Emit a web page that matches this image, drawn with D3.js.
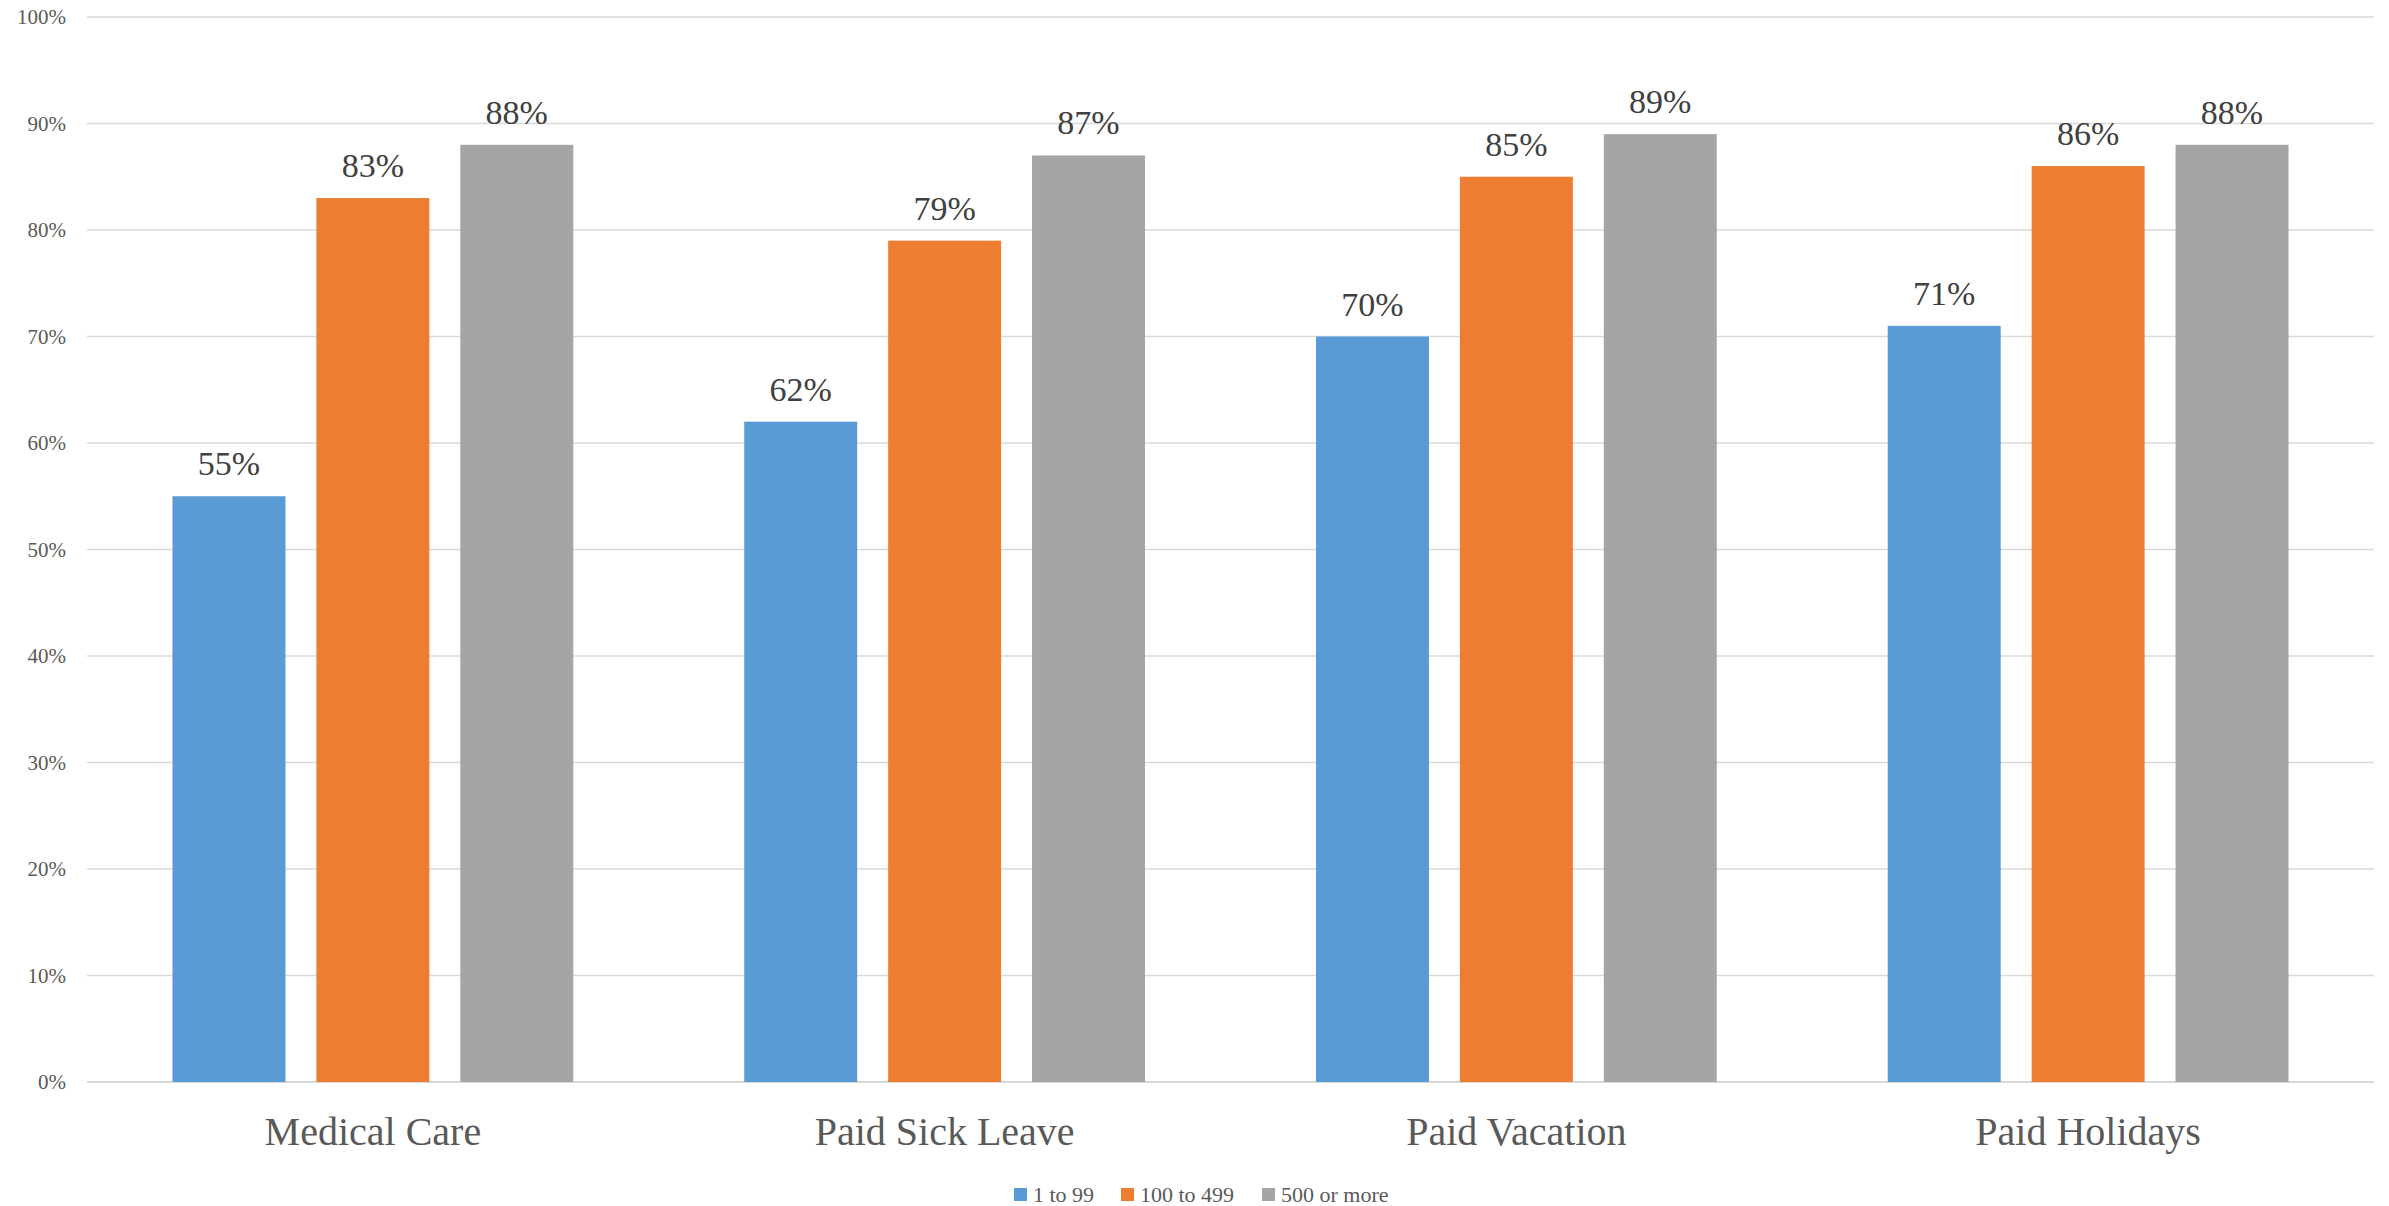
<!DOCTYPE html>
<html>
<head>
<meta charset="utf-8">
<script src="https://cdn.jsdelivr.net/npm/d3@7"></script>
<style>
  html, body { margin: 0; padding: 0; background: #fff; }
  svg { display: block; font-family: "Liberation Serif", "DejaVu Serif", serif; }
</style>
</head>
<body>
<svg id="chart" width="2389" height="1206"></svg>
<script>
// data
const categories = ["Medical Care", "Paid Sick Leave", "Paid Vacation", "Paid Holidays"];
const seriesNames = ["1 to 99", "100 to 499", "500 or more"];
const seriesColors = ["#5B9BD5", "#ED7D31", "#A5A5A5"];
const small = [55, 62, 70, 71];      // 1 to 99
const medium = [83, 79, 85, 86];     // 100 to 499
const large = [88, 87, 89, 88];      // 500 or more
const yTicks = [0, 10, 20, 30, 40, 50, 60, 70, 80, 90, 100];

const seriesValues = [small, medium, large];

const svg = d3.select('#chart');

// plot area
const plot = { left: 87, right: 2374, top: 17, bottom: 1082 };

const y = d3.scaleLinear().domain([0, 100]).range([plot.bottom, plot.top]);

const x0 = d3.scaleBand()
  .domain(categories)
  .range([plot.left, plot.right])
  .padding(0);

const groupPad = x0.bandwidth() * 0.1495;
const x1 = d3.scaleBand()
  .domain(seriesNames)
  .range([groupPad, x0.bandwidth() - groupPad])
  .paddingInner(0.215)
  .paddingOuter(0);

// gridlines
svg.append('g')
  .selectAll('line')
  .data(yTicks)
  .enter()
  .append('line')
  .attr('x1', plot.left)
  .attr('x2', plot.right)
  .attr('y1', d => y(d))
  .attr('y2', d => y(d))
  .attr('stroke', '#d9d9d9')
  .attr('stroke-width', d => d == 0 ? 2 : 1.5);

// y tick labels
svg.append('g')
  .selectAll('text')
  .data(yTicks)
  .enter()
  .append('text')
  .attr('x', 66)
  .attr('y', d => y(d) + 7)
  .attr('text-anchor', 'end')
  .attr('font-size', 21)
  .attr('fill', '#595959')
  .text(d => d + '%');

// bars
let groups = svg.append('g')
  .selectAll('g')
  .data(categories)
  .enter()
  .append('g')
  .attr('transform', d => 'translate(' + x0(d) + ',0)');

let cells = groups.selectAll('g')
  .data((c, ci) => seriesNames.map((s, si) => ({ series: s, si: si, value: seriesValues[si][ci] })))
  .enter()
  .append('g');

cells.append('rect')
  .attr('x', d => x1(d.series))
  .attr('y', d => y(d.value))
  .attr('width', x1.bandwidth())
  .attr('height', d => y(0) - y(d.value))
  .attr('fill', d => seriesColors[d.si]);

cells.append('text')
  .attr('x', d => x1(d.series) + x1.bandwidth() / 2)
  .attr('y', d => y(d.value) - 21)
  .attr('text-anchor', 'middle')
  .attr('font-size', 34)
  .attr('fill', '#404040')
  .text(d => d.value + '%');

// category labels
svg.append('g')
  .selectAll('text')
  .data(categories)
  .enter()
  .append('text')
  .attr('x', d => x0(d) + x0.bandwidth() / 2)
  .attr('y', 1145)
  .attr('text-anchor', 'middle')
  .attr('font-size', 40)
  .attr('fill', '#595959')
  .text(d => d);

// legend
const legendX = [1014, 1121, 1262];
let legend = svg.append('g')
  .selectAll('g')
  .data(seriesNames)
  .enter()
  .append('g')
  .attr('transform', (d, i) => 'translate(' + legendX[i] + ',1188)');

legend.append('rect')
  .attr('width', 13)
  .attr('height', 13)
  .attr('fill', (d, i) => seriesColors[i]);

legend.append('text')
  .attr('x', 19)
  .attr('y', 14)
  .attr('font-size', 22)
  .attr('fill', '#595959')
  .text(d => d);
</script>
</body>
</html>
